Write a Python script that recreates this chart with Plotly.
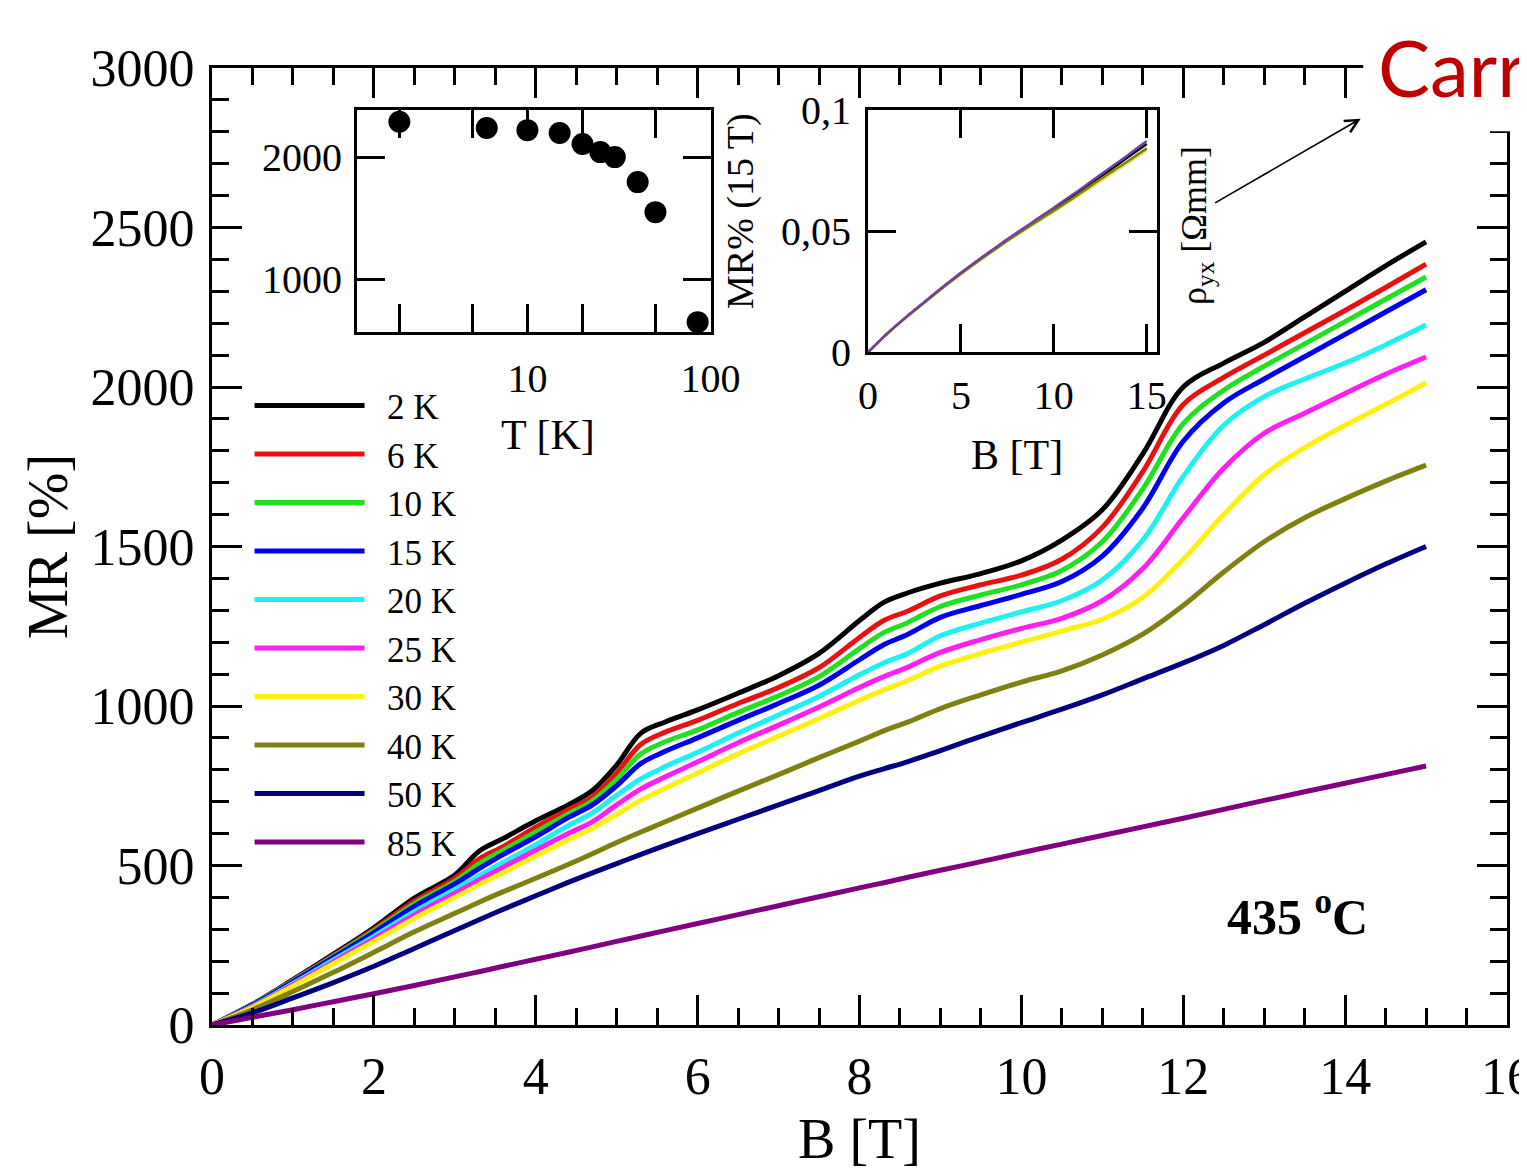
import plotly.graph_objects as go

# ---------------- data ----------------
B = [0, 0.5, 1, 1.5, 2, 2.5, 3, 3.3, 3.6, 4, 4.4, 4.7, 5, 5.3, 5.6, 6, 6.5, 7, 7.5, 8,
     8.3, 8.6, 9, 9.5, 10, 10.5, 11, 11.5, 12, 12.5, 13, 13.5, 14, 14.5, 15]

mr_2K = [0, 65, 142, 222, 305, 398, 470, 545, 585, 640, 690, 735, 815, 915, 950, 988, 1040, 1095, 1165, 1268,
         1325, 1355, 1385, 1415, 1455, 1520, 1615, 1790, 2000, 2075, 2140, 2220, 2300, 2380, 2455]
mr_6K = [0, 64, 140, 218, 300, 388, 460, 520, 560, 620, 675, 715, 790, 880, 918, 955, 1008, 1058, 1120, 1215,
         1268, 1298, 1345, 1380, 1410, 1460, 1560, 1735, 1945, 2030, 2100, 2170, 2240, 2312, 2385]
mr_10K = [0, 63, 138, 215, 295, 380, 450, 505, 548, 605, 662, 703, 770, 850, 888, 925, 980, 1032, 1092, 1180,
          1230, 1262, 1312, 1348, 1380, 1425, 1515, 1680, 1885, 1990, 2065, 2135, 2205, 2275, 2345]
mr_15K = [0, 62, 136, 212, 290, 372, 442, 490, 535, 590, 650, 690, 750, 820, 858, 900, 955, 1008, 1065, 1145,
          1192, 1225, 1278, 1315, 1350, 1390, 1470, 1620, 1830, 1950, 2025, 2095, 2165, 2235, 2305]
mr_20K = [0, 59, 130, 204, 278, 355, 425, 468, 510, 565, 625, 665, 720, 772, 810, 855, 915, 972, 1030, 1098,
          1135, 1165, 1220, 1260, 1295, 1330, 1395, 1520, 1720, 1880, 1970, 2025, 2075, 2132, 2194]
mr_25K = [0, 57, 126, 198, 270, 345, 413, 455, 495, 548, 600, 637, 690, 740, 778, 825, 885, 940, 997, 1058,
          1092, 1122, 1168, 1208, 1243, 1275, 1330, 1430, 1590, 1745, 1855, 1918, 1980, 2040, 2094]
mr_30K = [0, 55, 122, 192, 262, 334, 400, 440, 478, 530, 580, 617, 660, 705, 742, 790, 850, 905, 960, 1018,
          1050, 1080, 1125, 1165, 1200, 1235, 1272, 1340, 1460, 1600, 1725, 1810, 1880, 1945, 2013]
mr_40K = [0, 48, 105, 165, 228, 292, 350, 385, 418, 460, 503, 537, 572, 605, 637, 680, 733, 785, 838, 890,
          922, 950, 992, 1035, 1075, 1110, 1160, 1225, 1315, 1420, 1515, 1590, 1650, 1705, 1755]
mr_50K = [0, 38, 85, 133, 184, 240, 296, 330, 363, 405, 447, 477, 506, 535, 563, 600, 645, 690, 735, 780,
          803, 826, 860, 905, 948, 990, 1035, 1085, 1135, 1190, 1255, 1322, 1385, 1445, 1500]
mr_85K = [0, 24, 48, 73, 98, 124, 151, 167, 184, 206, 228, 245, 262, 279, 296, 318, 346, 374, 402, 430,
          446, 463, 485, 512, 540, 567, 594, 621, 648, 676, 704, 731, 758, 785, 812]

labels = ["2 K", "6 K", "10 K", "15 K", "20 K", "25 K", "30 K", "40 K", "50 K", "85 K"]
series = [mr_2K, mr_6K, mr_10K, mr_15K, mr_20K, mr_25K, mr_30K, mr_40K, mr_50K, mr_85K]
colors = ["#000000", "#E81010", "#20E020", "#0000F0", "#20F0F0", "#FF20F0", "#FFF010",
          "#808010", "#000080", "#800080"]

# inset 1: MR at 15 T vs temperature
T_inset = [2, 6, 10, 15, 20, 25, 30, 40, 50, 85]
MR15_inset = [2289, 2238, 2221, 2197, 2107, 2041, 2000, 1795, 1549, 648]

# inset 2: Hall resistivity
B2 = [0, 1, 2, 3, 4, 5, 6, 7, 8, 9, 10, 11, 12, 13, 14, 15]
rho_2K = [0, 0.0075, 0.0142, 0.0204, 0.0266, 0.0326, 0.0383, 0.0437, 0.0490, 0.0541, 0.0592, 0.0644,
          0.0698, 0.0752, 0.0806, 0.0860]
rho_30K = [0, 0.0074, 0.0140, 0.0202, 0.0263, 0.0322, 0.0378, 0.0432, 0.0483, 0.0532, 0.0580, 0.0630,
           0.0681, 0.0732, 0.0783, 0.0835]
rho_40K = [0, 0.0074, 0.0141, 0.0203, 0.0265, 0.0324, 0.0380, 0.0434, 0.0486, 0.0536, 0.0585, 0.0635,
           0.0688, 0.0740, 0.0790, 0.0842]
rho_85K = [0, 0.0075, 0.0142, 0.0205, 0.0268, 0.0328, 0.0385, 0.0440, 0.0493, 0.0545, 0.0597, 0.0650,
           0.0705, 0.0760, 0.0815, 0.0872]

x_ticks_main = [0, 2, 4, 6, 8, 10, 12, 14, 16]
y_ticks_main = [0, 500, 1000, 1500, 2000, 2500, 3000]

# ---------------- figure ----------------
SERIF = "Liberation Serif"
fig = go.Figure()

for lab, ys, col in zip(labels, series, colors):
    fig.add_trace(go.Scatter(x=B, y=ys, mode="lines", name="\u2002" + lab,
                             line=dict(color=col, width=5, shape="spline", smoothing=1.0),
                             xaxis="x", yaxis="y"))

fig.add_trace(go.Scatter(x=T_inset, y=MR15_inset, mode="markers", showlegend=False,
                         marker=dict(color="black", size=22), xaxis="x2", yaxis="y2"))

for ys, col in zip([rho_2K, rho_30K, rho_40K, rho_85K],
                   ["#000000", "#E8E040", "#808010", "#7040A0"]):
    fig.add_trace(go.Scatter(x=B2, y=ys, mode="lines", showlegend=False,
                             line=dict(color=col, width=2.5, shape="spline"),
                             xaxis="x3", yaxis="y3"))

axis_common = dict(showline=True, linecolor="black", linewidth=3, mirror="allticks",
                   ticks="inside", tickcolor="black", showgrid=False, zeroline=False,
                   automargin=False)

fig.update_layout(
    width=1519, height=1162, autosize=False,
    margin=dict(l=204, r=20, t=60, b=145),
    paper_bgcolor="white", plot_bgcolor="white",
    font=dict(family=SERIF, color="black"),
    xaxis=dict(**axis_common, range=[0, 16], tickvals=x_ticks_main, ticklen=30, tickwidth=3,
               minor=dict(ticks="inside", dtick=0.5, ticklen=17, tickwidth=2.5, tickcolor="black"),
               tickfont=dict(size=52, family=SERIF), ticklabelstandoff=4, ticklabeloverflow="allow",
               title=dict(text="B [T]", font=dict(size=56, family=SERIF), standoff=25)),
    yaxis=dict(**axis_common, range=[0, 3000], tickvals=y_ticks_main, ticklen=30, tickwidth=3,
               minor=dict(ticks="inside", dtick=100, ticklen=17, tickwidth=2.5, tickcolor="black"),
               tickfont=dict(size=52, family=SERIF), ticklabelstandoff=4,
               title=dict(text="MR [%]", font=dict(size=56, family=SERIF), standoff=5)),
    xaxis2=dict(**axis_common, type="log", range=[0.07, 2.0], domain=[0.112, 0.385],
                anchor="y2", tickvals=[2, 5, 10, 20, 50, 100],
                ticktext=["", "", "10", "", "", "100"], ticklen=28, tickwidth=3,
                tickfont=dict(size=40, family=SERIF), ticklabelstandoff=9),
    yaxis2=dict(**axis_common, range=[566, 2385], domain=[0.724, 0.956], anchor="x2",
                tickvals=[1000, 2000], ticklen=28, tickwidth=3,
                tickfont=dict(size=40, family=SERIF), ticklabelstandoff=4),
    xaxis3=dict(**axis_common, range=[0, 15.55], domain=[0.5066, 0.7297], anchor="y3",
                tickvals=[0, 5, 10, 15], ticklen=28, tickwidth=3,
                tickfont=dict(size=40, family=SERIF), ticklabelstandoff=6),
    yaxis3=dict(**axis_common, range=[0, 0.1], domain=[0.703, 0.956], anchor="x3",
                tickvals=[0, 0.05, 0.1], ticktext=["0", "0,05", "0,1"], ticklen=28, tickwidth=3,
                tickfont=dict(size=40, family=SERIF), ticklabelstandoff=6),
    legend=dict(x=0.029, y=0.678, xanchor="left", yanchor="top", bgcolor="rgba(0,0,0,0)",
                font=dict(size=35, family=SERIF), itemwidth=110, tracegroupgap=0),
    showlegend=True,
)

# white patch where the axis frame is interrupted by the overlaid label
fig.add_shape(type="rect", xref="paper", yref="paper", x0=0.889, x1=1.02, y0=0.934, y1=1.06,
              fillcolor="white", line=dict(width=0), layer="above")

annotations = [
    dict(text="T [K]", x=0.2595, y=0.6165, xref="paper", yref="paper", showarrow=False,
         xanchor="center", yanchor="middle", font=dict(size=42, family=SERIF)),
    dict(text="MR% (15 T)", x=0.4085, y=0.8506, xref="paper", yref="paper", showarrow=False,
         xanchor="center", yanchor="middle", textangle=-90, font=dict(size=38, family=SERIF)),
    dict(text="B [T]", x=0.6216, y=0.5956, xref="paper", yref="paper", showarrow=False,
         xanchor="center", yanchor="middle", font=dict(size=42, family=SERIF)),
    dict(text="ρ<sub>yx</sub> [Ωmm]", x=0.7606, y=0.836, xref="paper", yref="paper", showarrow=False,
         xanchor="center", yanchor="middle", textangle=-90, font=dict(size=36, family=SERIF)),
    dict(text="<b>435 <sup>o</sup>C</b>", x=0.8386, y=0.117, xref="paper", yref="paper", showarrow=False,
         xanchor="center", yanchor="middle", font=dict(size=50, family=SERIF)),
    dict(text="Carr", x=0.8987, y=1.001, xref="paper", yref="paper", xanchor="left", yanchor="middle",
         showarrow=False, font=dict(size=78, family="Lato", color="#C00000")),
    dict(text="", x=0.887, y=0.947, xref="paper", yref="paper", showarrow=True,
         ax=-147, ay=85, arrowhead=5, arrowsize=1.6, arrowwidth=1.6, arrowcolor="black"),
]
fig.update_layout(annotations=annotations)

fig.write_html("out.html")
